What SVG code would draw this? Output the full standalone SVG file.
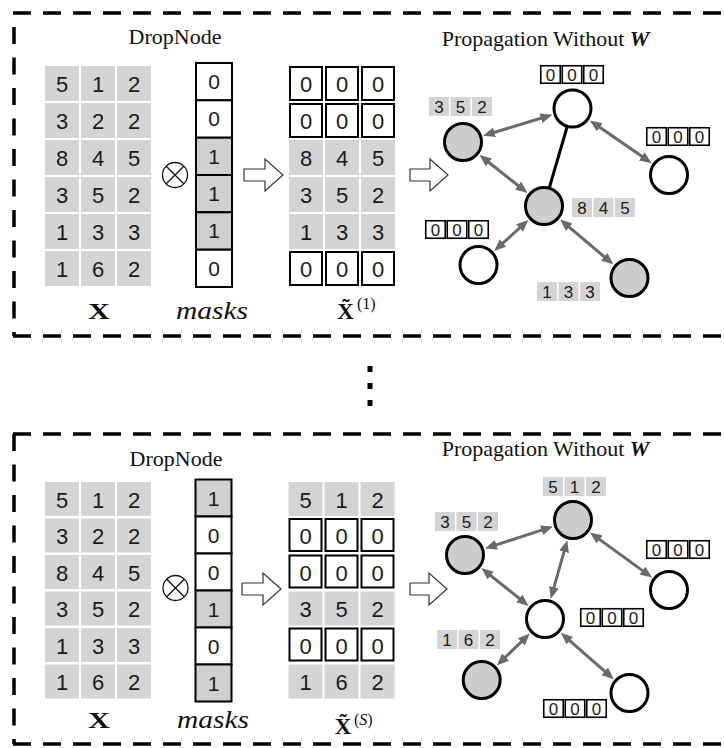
<svg xmlns="http://www.w3.org/2000/svg" width="724" height="748" viewBox="0 0 724 748">
  <style>
    .frame{fill:none;stroke:#000;stroke-width:3.5}
    .fh{stroke-dasharray:18 12}
    .fv{stroke-dasharray:17 13.5}
    .cell{fill:#d4d4d4}
    .zc{fill:#fff;stroke:#000;stroke-width:2}
    .mk{fill:#fff;stroke:#000;stroke-width:2}
    .mk.on{fill:#d0d0d0}
    .num{font-family:"Liberation Sans",Arial,sans-serif;font-size:22px;text-anchor:middle;fill:#1a1a1a}
    .mnum{font-family:"Liberation Sans",Arial,sans-serif;font-size:21px;text-anchor:middle;fill:#1a1a1a}
    .title{font-family:"Liberation Serif","Times New Roman",serif;font-size:22px;text-anchor:middle;fill:#111}
    .bx{font-family:"Liberation Serif","Times New Roman",serif;font-weight:bold;font-size:23px;text-anchor:middle;fill:#111}
    .it{font-family:"Liberation Serif","Times New Roman",serif;font-style:italic;font-size:26px;text-anchor:middle;fill:#111}
    .sup{font-family:"Liberation Serif","Times New Roman",serif;font-size:16px;fill:#111}
    .otimes{fill:none;stroke:#111;stroke-width:1.3}
    .harrow{fill:#fff;stroke:#333;stroke-width:1.2;stroke-linejoin:miter}
    .gn circle{stroke:#000;stroke-width:3}
    .gray{fill:#cdcdcd}
    .white{fill:#fff}
    .edge{stroke:#6a6a6a;stroke-width:3;fill:none;marker-start:url(#ah);marker-end:url(#ah)}
    .link{stroke:#000;stroke-width:3}
    .tg{fill:#d4d4d4}
    .tz{fill:#fff;stroke:#000;stroke-width:1.6}
    .tn{font-family:"Liberation Sans",Arial,sans-serif;font-size:17px;text-anchor:middle;fill:#1a1a1a}
  </style>
  <defs>
    <marker id="ah" viewBox="0 0 12 10" refX="4" refY="5" markerWidth="12" markerHeight="10" markerUnits="userSpaceOnUse" orient="auto-start-reverse">
      <path d="M0,0 L12,5 L0,10 z" fill="#6a6a6a"/>
    </marker>
  </defs>

  <rect width="724" height="748" fill="#fff"/>

  <!-- dashed panel frames -->
  <g id="frames">
    <line class="frame fh" x1="13" y1="13" x2="740" y2="13"/>
    <line class="frame fv" x1="14" y1="27" x2="14" y2="336"/>
    <line class="frame fh" x1="13" y1="336" x2="740" y2="336"/>
    <line class="frame fh" x1="13" y1="434" x2="740" y2="434"/>
    <line class="frame fv" x1="14" y1="434" x2="14" y2="744"/>
    <line class="frame fh" x1="13" y1="744" x2="740" y2="744"/>
  </g>

  <!-- vertical ellipsis between samples -->
  <g id="ellipsis" fill="#000">
    <rect x="367.5" y="366" width="5" height="6"/>
    <rect x="367.5" y="383" width="5" height="6"/>
    <rect x="367.5" y="400" width="5" height="6"/>
  </g>

  <!-- ===================== sample 1 ===================== -->
  <text class="title" x="175" y="44">DropNode</text>
  <text class="title" x="545.5" y="46">Propagation Without <tspan font-weight="bold" font-style="italic">W</tspan></text>

  <g id="x-1">
    <rect class="cell" x="45" y="66" width="34" height="35"/><rect class="cell" x="81" y="66" width="34" height="35"/><rect class="cell" x="117" y="66" width="34" height="35"/>
    <rect class="cell" x="45" y="103" width="34" height="35"/><rect class="cell" x="81" y="103" width="34" height="35"/><rect class="cell" x="117" y="103" width="34" height="35"/>
    <rect class="cell" x="45" y="140" width="34" height="35"/><rect class="cell" x="81" y="140" width="34" height="35"/><rect class="cell" x="117" y="140" width="34" height="35"/>
    <rect class="cell" x="45" y="177" width="34" height="35"/><rect class="cell" x="81" y="177" width="34" height="35"/><rect class="cell" x="117" y="177" width="34" height="35"/>
    <rect class="cell" x="45" y="214" width="34" height="35"/><rect class="cell" x="81" y="214" width="34" height="35"/><rect class="cell" x="117" y="214" width="34" height="35"/>
    <rect class="cell" x="45" y="251" width="34" height="35"/><rect class="cell" x="81" y="251" width="34" height="35"/><rect class="cell" x="117" y="251" width="34" height="35"/>
    <text class="num" x="62" y="92">5</text><text class="num" x="98" y="92">1</text><text class="num" x="134" y="92">2</text>
    <text class="num" x="62" y="129">3</text><text class="num" x="98" y="129">2</text><text class="num" x="134" y="129">2</text>
    <text class="num" x="62" y="166">8</text><text class="num" x="98" y="166">4</text><text class="num" x="134" y="166">5</text>
    <text class="num" x="62" y="203">3</text><text class="num" x="98" y="203">5</text><text class="num" x="134" y="203">2</text>
    <text class="num" x="62" y="240">1</text><text class="num" x="98" y="240">3</text><text class="num" x="134" y="240">3</text>
    <text class="num" x="62" y="277">1</text><text class="num" x="98" y="277">6</text><text class="num" x="134" y="277">2</text>
    <text class="bx" x="99" y="319" textLength="22" lengthAdjust="spacingAndGlyphs">X</text>
  </g>

  <g id="otimes-1">
    <circle class="otimes" cx="175" cy="175" r="12.5"/>
    <line class="otimes" x1="166.2" y1="166.2" x2="183.8" y2="183.8"/>
    <line class="otimes" x1="183.8" y1="166.2" x2="166.2" y2="183.8"/>
  </g>

  <g id="masks-1">
    <rect class="mk" x="196" y="63" width="36" height="37.3"/>
    <rect class="mk" x="196" y="100.3" width="36" height="37.4"/>
    <rect class="mk on" x="196" y="137.7" width="36" height="37.3"/>
    <rect class="mk on" x="196" y="175" width="36" height="37.3"/>
    <rect class="mk on" x="196" y="212.3" width="36" height="37.4"/>
    <rect class="mk" x="196" y="249.7" width="36" height="37.3"/>
    <text class="mnum" x="214" y="89">0</text>
    <text class="mnum" x="214" y="126">0</text>
    <text class="mnum" x="214" y="164">1</text>
    <text class="mnum" x="214" y="201">1</text>
    <text class="mnum" x="214" y="238">1</text>
    <text class="mnum" x="214" y="276">0</text>
    <text class="it" x="212" y="319" textLength="72" lengthAdjust="spacingAndGlyphs">masks</text>
  </g>

  <polygon id="step-a-1" class="harrow" points="244,169 265,169 265,159 283,175 265,191 265,181 244,181"/>

  <g id="xtilde-1">
    <rect class="zc" x="290" y="67" width="32" height="33"/><rect class="zc" x="326" y="67" width="32" height="33"/><rect class="zc" x="362" y="67" width="32" height="33"/>
    <rect class="zc" x="290" y="104" width="32" height="33"/><rect class="zc" x="326" y="104" width="32" height="33"/><rect class="zc" x="362" y="104" width="32" height="33"/>
    <rect class="cell" x="289" y="140" width="34" height="35"/><rect class="cell" x="325" y="140" width="34" height="35"/><rect class="cell" x="361" y="140" width="34" height="35"/>
    <rect class="cell" x="289" y="177" width="34" height="35"/><rect class="cell" x="325" y="177" width="34" height="35"/><rect class="cell" x="361" y="177" width="34" height="35"/>
    <rect class="cell" x="289" y="214" width="34" height="35"/><rect class="cell" x="325" y="214" width="34" height="35"/><rect class="cell" x="361" y="214" width="34" height="35"/>
    <rect class="zc" x="290" y="252" width="32" height="33"/><rect class="zc" x="326" y="252" width="32" height="33"/><rect class="zc" x="362" y="252" width="32" height="33"/>
    <text class="num" x="306" y="92">0</text><text class="num" x="342" y="92">0</text><text class="num" x="378" y="92">0</text>
    <text class="num" x="306" y="129">0</text><text class="num" x="342" y="129">0</text><text class="num" x="378" y="129">0</text>
    <text class="num" x="306" y="166">8</text><text class="num" x="342" y="166">4</text><text class="num" x="378" y="166">5</text>
    <text class="num" x="306" y="203">3</text><text class="num" x="342" y="203">5</text><text class="num" x="378" y="203">2</text>
    <text class="num" x="306" y="240">1</text><text class="num" x="342" y="240">3</text><text class="num" x="378" y="240">3</text>
    <text class="num" x="306" y="277">0</text><text class="num" x="342" y="277">0</text><text class="num" x="378" y="277">0</text>
    <text class="bx" x="345.5" y="319">X&#x303;</text>
    <text class="sup" x="357" y="309">(1)</text>
  </g>

  <polygon id="step-b-1" class="harrow" points="410,169 430,169 430,159 448,175 430,191 430,181 410,181"/>

  <!-- propagation graph, sample 1 -->
  <g id="edges-1">
    <line class="link" x1="572.5" y1="108.5" x2="544" y2="206"/>
    <line class="edge" x1="544.8" y1="117" x2="490.7" y2="133.5"/>
    <line class="edge" x1="596.4" y1="125" x2="645.1" y2="158.6"/>
    <line class="edge" x1="485.8" y1="160" x2="521.2" y2="188"/>
    <line class="edge" x1="522.5" y1="225.4" x2="500.1" y2="245.6"/>
    <line class="edge" x1="566.2" y1="224.7" x2="607.3" y2="259.3"/>
  </g>

  <g id="n1-a" class="gn">
    <circle class="white" cx="572.5" cy="108.5" r="18.5"/>
    <rect class="tz" x="540.75" y="65.75" width="19.5" height="17.5"/><rect class="tz" x="562.25" y="65.75" width="19.5" height="17.5"/><rect class="tz" x="583.75" y="65.75" width="19.5" height="17.5"/>
    <text class="tn" x="550.5" y="81">0</text><text class="tn" x="572" y="81">0</text><text class="tn" x="593.5" y="81">0</text>
  </g>
  <g id="n1-b" class="gn">
    <circle class="gray" cx="463" cy="142" r="18.5"/>
    <rect class="tg" x="429" y="97" width="20" height="19"/><rect class="tg" x="450.5" y="97" width="20" height="19"/><rect class="tg" x="472" y="97" width="20" height="19"/>
    <text class="tn" x="439" y="112.5">3</text><text class="tn" x="460.5" y="112.5">5</text><text class="tn" x="482" y="112.5">2</text>
  </g>
  <g id="n1-c" class="gn">
    <circle class="white" cx="669" cy="175" r="18.5"/>
    <rect class="tz" x="646.75" y="127.75" width="19.5" height="17.5"/><rect class="tz" x="668.25" y="127.75" width="19.5" height="17.5"/><rect class="tz" x="689.75" y="127.75" width="19.5" height="17.5"/>
    <text class="tn" x="656.5" y="143">0</text><text class="tn" x="678" y="143">0</text><text class="tn" x="699.5" y="143">0</text>
  </g>
  <g id="n1-d" class="gn">
    <circle class="gray" cx="544" cy="206" r="18.5"/>
    <rect class="tg" x="572" y="198" width="20" height="19"/><rect class="tg" x="593.5" y="198" width="20" height="19"/><rect class="tg" x="615" y="198" width="20" height="19"/>
    <text class="tn" x="582" y="213.5">8</text><text class="tn" x="603.5" y="213.5">4</text><text class="tn" x="625" y="213.5">5</text>
  </g>
  <g id="n1-e" class="gn">
    <circle class="white" cx="478.5" cy="265" r="18.5"/>
    <rect class="tz" x="425.75" y="220.75" width="19.5" height="17.5"/><rect class="tz" x="447.25" y="220.75" width="19.5" height="17.5"/><rect class="tz" x="468.75" y="220.75" width="19.5" height="17.5"/>
    <text class="tn" x="435.5" y="236">0</text><text class="tn" x="457" y="236">0</text><text class="tn" x="478.5" y="236">0</text>
  </g>
  <g id="n1-f" class="gn">
    <circle class="gray" cx="629.5" cy="278" r="18.5"/>
    <rect class="tg" x="537" y="282" width="20" height="19"/><rect class="tg" x="558.5" y="282" width="20" height="19"/><rect class="tg" x="580" y="282" width="20" height="19"/>
    <text class="tn" x="547" y="297.5">1</text><text class="tn" x="568.5" y="297.5">3</text><text class="tn" x="590" y="297.5">3</text>
  </g>

  <!-- ===================== sample S ===================== -->
  <text class="title" x="176" y="466">DropNode</text>
  <text class="title" x="545.5" y="456">Propagation Without <tspan font-weight="bold" font-style="italic">W</tspan></text>

  <g id="x-s">
    <rect class="cell" x="45" y="482" width="34" height="34"/><rect class="cell" x="81" y="482" width="34" height="34"/><rect class="cell" x="117" y="482" width="34" height="34"/>
    <rect class="cell" x="45" y="518.5" width="34" height="34"/><rect class="cell" x="81" y="518.5" width="34" height="34"/><rect class="cell" x="117" y="518.5" width="34" height="34"/>
    <rect class="cell" x="45" y="555" width="34" height="34"/><rect class="cell" x="81" y="555" width="34" height="34"/><rect class="cell" x="117" y="555" width="34" height="34"/>
    <rect class="cell" x="45" y="591.5" width="34" height="34"/><rect class="cell" x="81" y="591.5" width="34" height="34"/><rect class="cell" x="117" y="591.5" width="34" height="34"/>
    <rect class="cell" x="45" y="628" width="34" height="34"/><rect class="cell" x="81" y="628" width="34" height="34"/><rect class="cell" x="117" y="628" width="34" height="34"/>
    <rect class="cell" x="45" y="664.5" width="34" height="34"/><rect class="cell" x="81" y="664.5" width="34" height="34"/><rect class="cell" x="117" y="664.5" width="34" height="34"/>
    <text class="num" x="62" y="507.5">5</text><text class="num" x="98" y="507.5">1</text><text class="num" x="134" y="507.5">2</text>
    <text class="num" x="62" y="544">3</text><text class="num" x="98" y="544">2</text><text class="num" x="134" y="544">2</text>
    <text class="num" x="62" y="580.5">8</text><text class="num" x="98" y="580.5">4</text><text class="num" x="134" y="580.5">5</text>
    <text class="num" x="62" y="617">3</text><text class="num" x="98" y="617">5</text><text class="num" x="134" y="617">2</text>
    <text class="num" x="62" y="653.5">1</text><text class="num" x="98" y="653.5">3</text><text class="num" x="134" y="653.5">3</text>
    <text class="num" x="62" y="690">1</text><text class="num" x="98" y="690">6</text><text class="num" x="134" y="690">2</text>
    <text class="bx" x="99" y="728" textLength="22" lengthAdjust="spacingAndGlyphs">X</text>
  </g>

  <g id="otimes-s">
    <circle class="otimes" cx="175.5" cy="588" r="12.5"/>
    <line class="otimes" x1="166.7" y1="579.2" x2="184.3" y2="596.8"/>
    <line class="otimes" x1="184.3" y1="579.2" x2="166.7" y2="596.8"/>
  </g>

  <g id="masks-s">
    <rect class="mk on" x="195.5" y="479.5" width="36" height="37"/>
    <rect class="mk" x="195.5" y="516.5" width="36" height="37"/>
    <rect class="mk" x="195.5" y="553.5" width="36" height="37"/>
    <rect class="mk on" x="195.5" y="590.5" width="36" height="37"/>
    <rect class="mk" x="195.5" y="627.5" width="36" height="37"/>
    <rect class="mk on" x="195.5" y="664.5" width="36" height="37"/>
    <text class="mnum" x="213.5" y="505.5">1</text>
    <text class="mnum" x="213.5" y="542.5">0</text>
    <text class="mnum" x="213.5" y="579.5">0</text>
    <text class="mnum" x="213.5" y="616.5">1</text>
    <text class="mnum" x="213.5" y="653.5">0</text>
    <text class="mnum" x="213.5" y="690.5">1</text>
    <text class="it" x="213" y="728" textLength="72" lengthAdjust="spacingAndGlyphs">masks</text>
  </g>

  <polygon id="step-a-s" class="harrow" points="242,583 263,583 263,573 281,589 263,605 263,595 242,595"/>

  <g id="xtilde-s">
    <rect class="cell" x="288.5" y="482" width="34" height="34"/><rect class="cell" x="324.5" y="482" width="34" height="34"/><rect class="cell" x="360.5" y="482" width="34" height="34"/>
    <rect class="zc" x="289.5" y="519" width="32" height="32"/><rect class="zc" x="325.5" y="519" width="32" height="32"/><rect class="zc" x="361.5" y="519" width="32" height="32"/>
    <rect class="zc" x="289.5" y="555.5" width="32" height="32"/><rect class="zc" x="325.5" y="555.5" width="32" height="32"/><rect class="zc" x="361.5" y="555.5" width="32" height="32"/>
    <rect class="cell" x="288.5" y="591.5" width="34" height="34"/><rect class="cell" x="324.5" y="591.5" width="34" height="34"/><rect class="cell" x="360.5" y="591.5" width="34" height="34"/>
    <rect class="zc" x="289.5" y="628.5" width="32" height="32"/><rect class="zc" x="325.5" y="628.5" width="32" height="32"/><rect class="zc" x="361.5" y="628.5" width="32" height="32"/>
    <rect class="cell" x="288.5" y="664.5" width="34" height="34"/><rect class="cell" x="324.5" y="664.5" width="34" height="34"/><rect class="cell" x="360.5" y="664.5" width="34" height="34"/>
    <text class="num" x="305.5" y="507.5">5</text><text class="num" x="341.5" y="507.5">1</text><text class="num" x="377.5" y="507.5">2</text>
    <text class="num" x="305.5" y="544">0</text><text class="num" x="341.5" y="544">0</text><text class="num" x="377.5" y="544">0</text>
    <text class="num" x="305.5" y="580.5">0</text><text class="num" x="341.5" y="580.5">0</text><text class="num" x="377.5" y="580.5">0</text>
    <text class="num" x="305.5" y="617">3</text><text class="num" x="341.5" y="617">5</text><text class="num" x="377.5" y="617">2</text>
    <text class="num" x="305.5" y="653.5">0</text><text class="num" x="341.5" y="653.5">0</text><text class="num" x="377.5" y="653.5">0</text>
    <text class="num" x="305.5" y="690">1</text><text class="num" x="341.5" y="690">6</text><text class="num" x="377.5" y="690">2</text>
    <text class="bx" x="343" y="734">X&#x303;</text>
    <text class="sup" x="354" y="725">(<tspan font-style="italic">S</tspan>)</text>
  </g>

  <polygon id="step-b-s" class="harrow" points="410,583 429,583 429,573 447,589 429,605 429,595 410,595"/>

  <!-- propagation graph, sample S -->
  <g id="edges-s">
    <line class="edge" x1="545.4" y1="528.9" x2="492.6" y2="546.1"/>
    <line class="edge" x1="596.4" y1="537.1" x2="645.6" y2="572.9"/>
    <line class="edge" x1="565.1" y1="547.9" x2="552.9" y2="591.1"/>
    <line class="edge" x1="487.6" y1="573.1" x2="522.4" y2="600.9"/>
    <line class="edge" x1="524.1" y1="639.1" x2="502.6" y2="659.9"/>
    <line class="edge" x1="566.8" y1="638.1" x2="607.7" y2="673.9"/>
  </g>

  <g id="ns-a" class="gn">
    <circle class="gray" cx="573" cy="520" r="18.5"/>
    <rect class="tg" x="543" y="477" width="20" height="19"/><rect class="tg" x="564.5" y="477" width="20" height="19"/><rect class="tg" x="586" y="477" width="20" height="19"/>
    <text class="tn" x="553" y="492.5">5</text><text class="tn" x="574.5" y="492.5">1</text><text class="tn" x="596" y="492.5">2</text>
  </g>
  <g id="ns-b" class="gn">
    <circle class="gray" cx="465" cy="555" r="18.5"/>
    <rect class="tg" x="435" y="512" width="20" height="19"/><rect class="tg" x="456.5" y="512" width="20" height="19"/><rect class="tg" x="478" y="512" width="20" height="19"/>
    <text class="tn" x="445" y="527.5">3</text><text class="tn" x="466.5" y="527.5">5</text><text class="tn" x="488" y="527.5">2</text>
  </g>
  <g id="ns-c" class="gn">
    <circle class="white" cx="669" cy="590" r="18.5"/>
    <rect class="tz" x="646.75" y="540.75" width="19.5" height="17.5"/><rect class="tz" x="668.25" y="540.75" width="19.5" height="17.5"/><rect class="tz" x="689.75" y="540.75" width="19.5" height="17.5"/>
    <text class="tn" x="656.5" y="556">0</text><text class="tn" x="678" y="556">0</text><text class="tn" x="699.5" y="556">0</text>
  </g>
  <g id="ns-d" class="gn">
    <circle class="white" cx="545" cy="619" r="18.5"/>
    <rect class="tz" x="580.75" y="608.75" width="19.5" height="17.5"/><rect class="tz" x="602.25" y="608.75" width="19.5" height="17.5"/><rect class="tz" x="623.75" y="608.75" width="19.5" height="17.5"/>
    <text class="tn" x="590.5" y="624">0</text><text class="tn" x="612" y="624">0</text><text class="tn" x="633.5" y="624">0</text>
  </g>
  <g id="ns-e" class="gn">
    <circle class="gray" cx="481.7" cy="680" r="18.5"/>
    <rect class="tg" x="437" y="630" width="20" height="19"/><rect class="tg" x="458.5" y="630" width="20" height="19"/><rect class="tg" x="480" y="630" width="20" height="19"/>
    <text class="tn" x="447" y="645.5">1</text><text class="tn" x="468.5" y="645.5">6</text><text class="tn" x="490" y="645.5">2</text>
  </g>
  <g id="ns-f" class="gn">
    <circle class="white" cx="629.5" cy="693" r="18.5"/>
    <rect class="tz" x="543.75" y="699.75" width="19.5" height="17.5"/><rect class="tz" x="565.25" y="699.75" width="19.5" height="17.5"/><rect class="tz" x="586.75" y="699.75" width="19.5" height="17.5"/>
    <text class="tn" x="553.5" y="715">0</text><text class="tn" x="575" y="715">0</text><text class="tn" x="596.5" y="715">0</text>
  </g>
</svg>
